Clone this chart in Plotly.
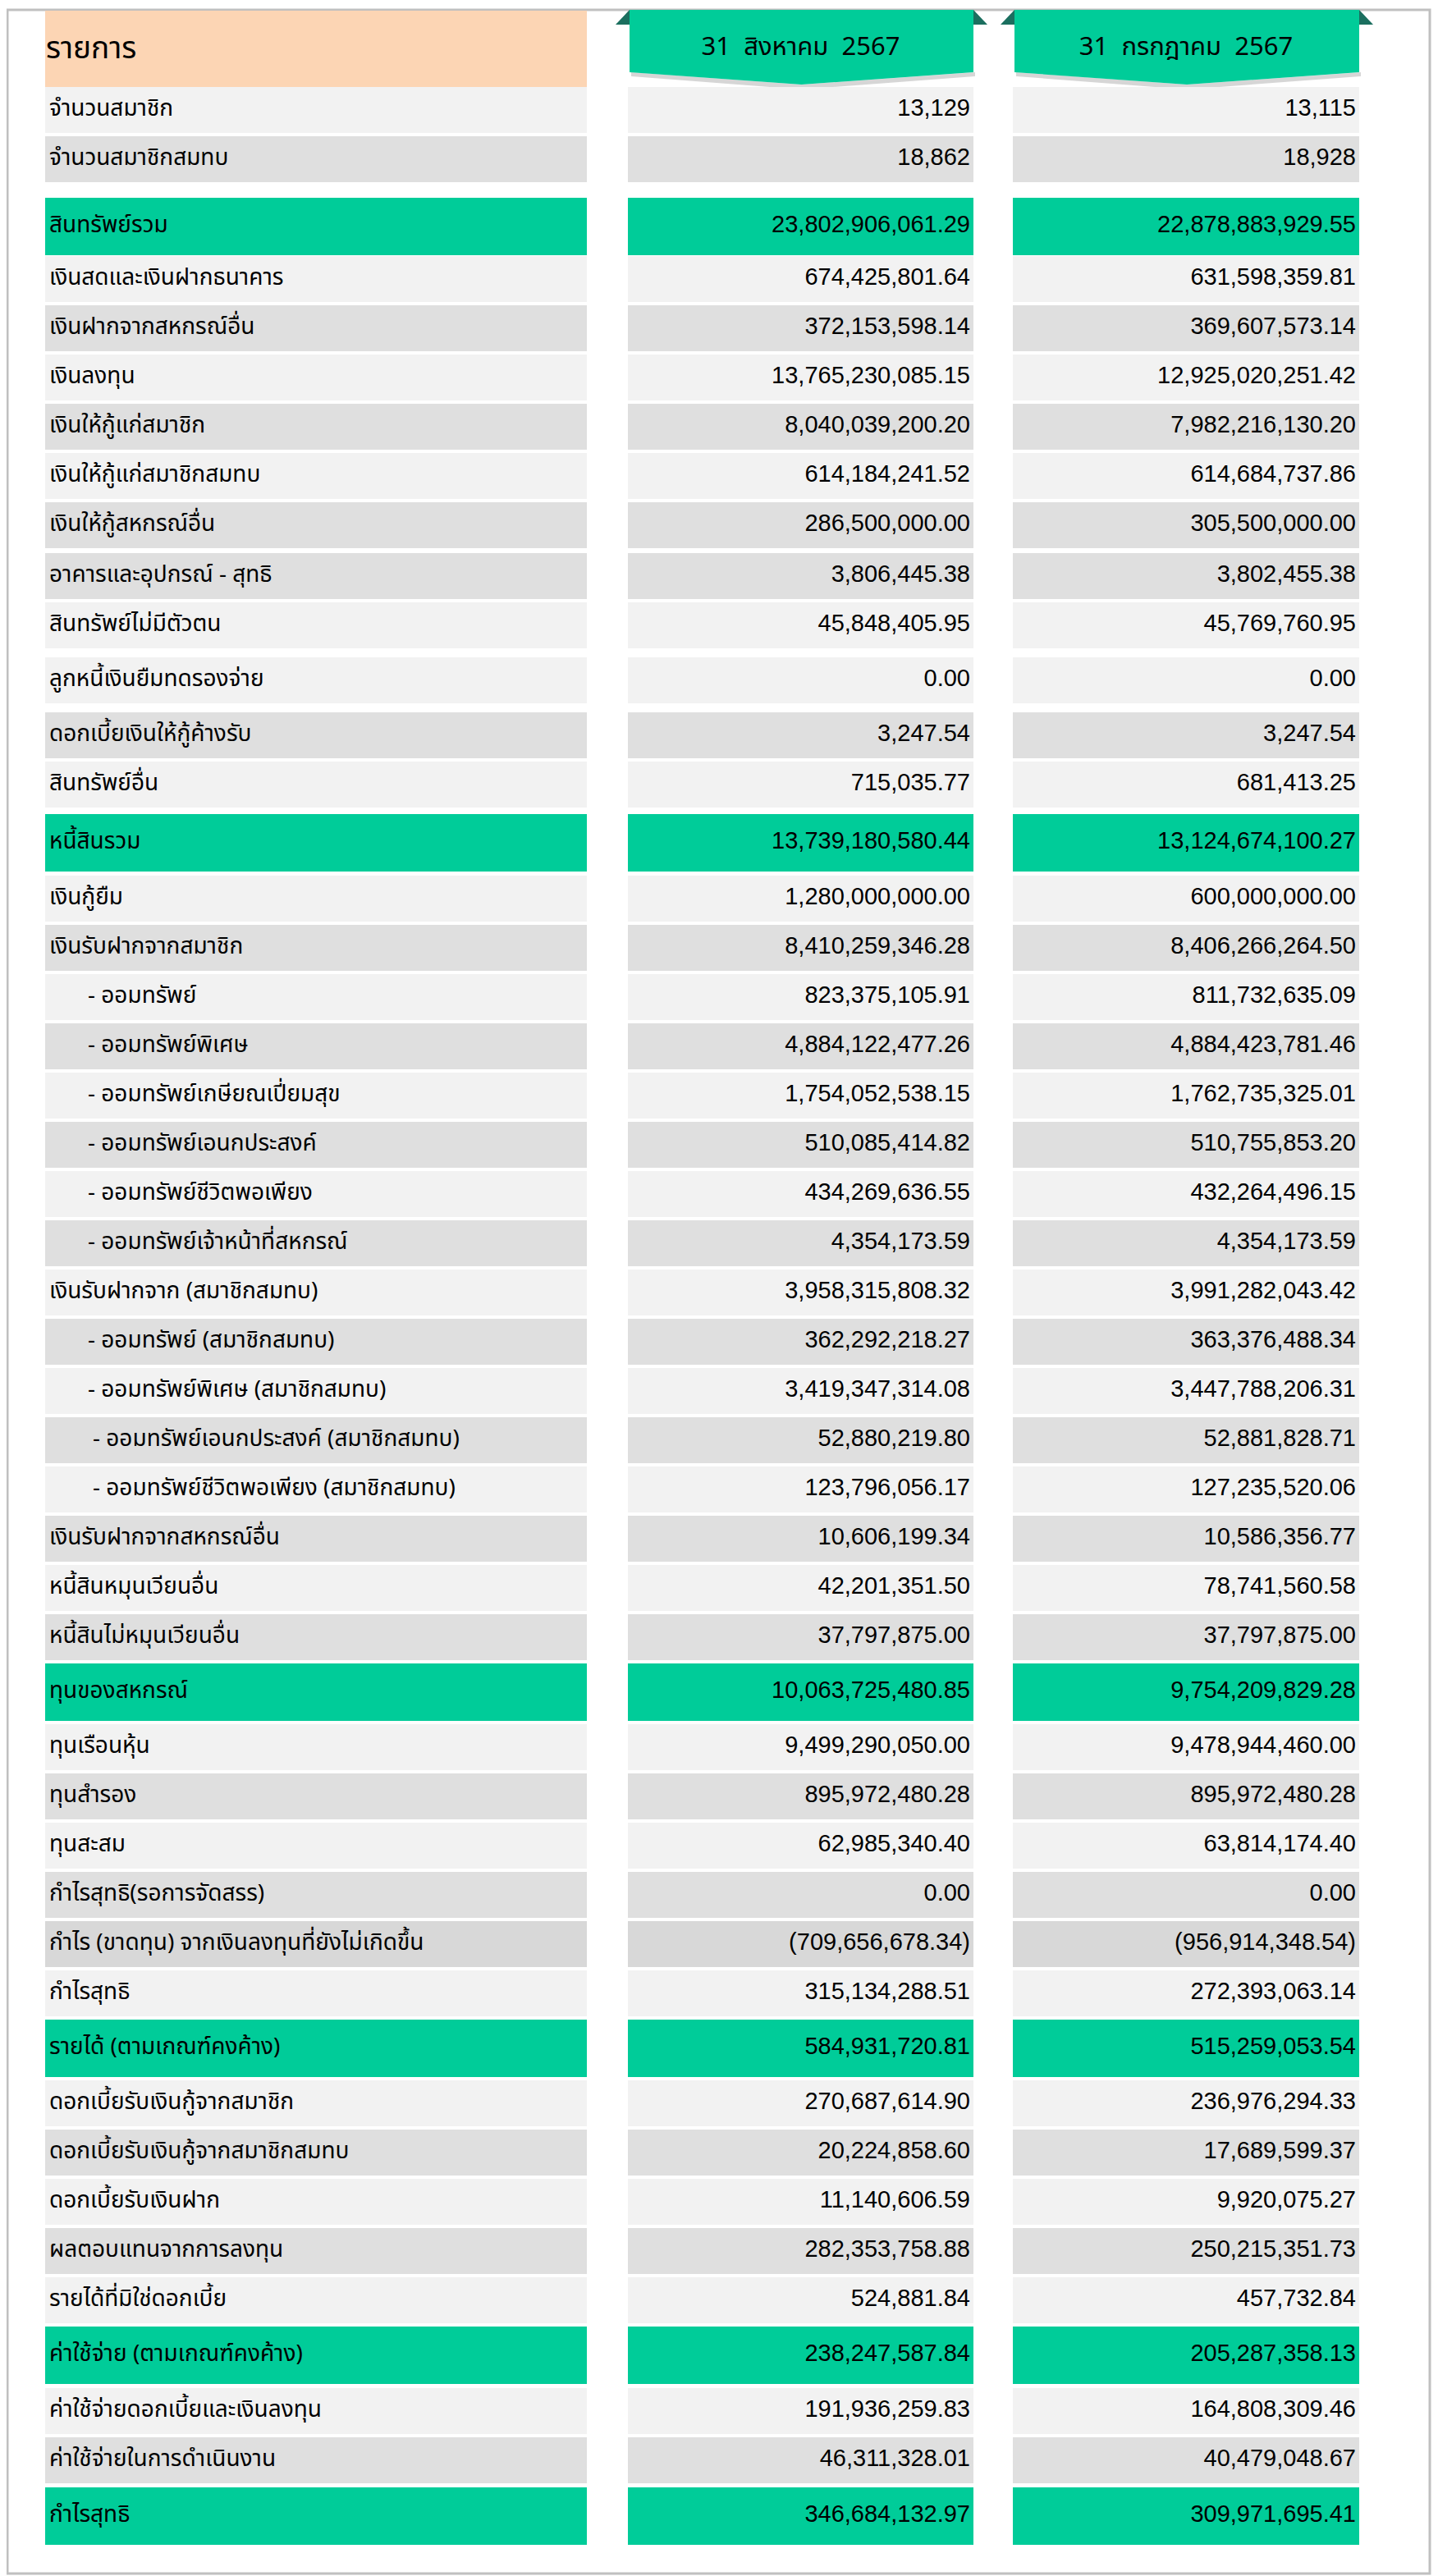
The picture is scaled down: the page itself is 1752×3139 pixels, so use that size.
import plotly.graph_objects as go

# ---- data ----
column_titles = ["รายการ", "31  สิงหาคม  2567", "31  กรกฎาคม  2567"]

labels = [
    "จำนวนสมาชิก", "จำนวนสมาชิกสมทบ",
    "สินทรัพย์รวม",
    "เงินสดและเงินฝากธนาคาร", "เงินฝากจากสหกรณ์อื่น", "เงินลงทุน",
    "เงินให้กู้แก่สมาชิก", "เงินให้กู้แก่สมาชิกสมทบ", "เงินให้กู้สหกรณ์อื่น",
    "อาคารและอุปกรณ์ - สุทธิ", "สินทรัพย์ไม่มีตัวตน", "ลูกหนี้เงินยืมทดรองจ่าย",
    "ดอกเบี้ยเงินให้กู้ค้างรับ", "สินทรัพย์อื่น",
    "หนี้สินรวม",
    "เงินกู้ยืม", "เงินรับฝากจากสมาชิก",
    "- ออมทรัพย์", "- ออมทรัพย์พิเศษ", "- ออมทรัพย์เกษียณเปี่ยมสุข",
    "- ออมทรัพย์เอนกประสงค์", "- ออมทรัพย์ชีวิตพอเพียง", "- ออมทรัพย์เจ้าหน้าที่สหกรณ์",
    "เงินรับฝากจาก (สมาชิกสมทบ)",
    "- ออมทรัพย์ (สมาชิกสมทบ)", "- ออมทรัพย์พิเศษ (สมาชิกสมทบ)",
    "- ออมทรัพย์เอนกประสงค์ (สมาชิกสมทบ)", "- ออมทรัพย์ชีวิตพอเพียง (สมาชิกสมทบ)",
    "เงินรับฝากจากสหกรณ์อื่น", "หนี้สินหมุนเวียนอื่น", "หนี้สินไม่หมุนเวียนอื่น",
    "ทุนของสหกรณ์",
    "ทุนเรือนหุ้น", "ทุนสำรอง", "ทุนสะสม", "กำไรสุทธิ(รอการจัดสรร)",
    "กำไร (ขาดทุน) จากเงินลงทุนที่ยังไม่เกิดขึ้น", "กำไรสุทธิ",
    "รายได้ (ตามเกณฑ์คงค้าง)",
    "ดอกเบี้ยรับเงินกู้จากสมาชิก", "ดอกเบี้ยรับเงินกู้จากสมาชิกสมทบ", "ดอกเบี้ยรับเงินฝาก",
    "ผลตอบแทนจากการลงทุน", "รายได้ที่มิใช่ดอกเบี้ย",
    "ค่าใช้จ่าย (ตามเกณฑ์คงค้าง)",
    "ค่าใช้จ่ายดอกเบี้ยและเงินลงทุน", "ค่าใช้จ่ายในการดำเนินงาน",
    "กำไรสุทธิ",
]

aug_2567 = [
    13129, 18862,
    23802906061.29,
    674425801.64, 372153598.14, 13765230085.15,
    8040039200.20, 614184241.52, 286500000.00,
    3806445.38, 45848405.95, 0.00,
    3247.54, 715035.77,
    13739180580.44,
    1280000000.00, 8410259346.28,
    823375105.91, 4884122477.26, 1754052538.15,
    510085414.82, 434269636.55, 4354173.59,
    3958315808.32,
    362292218.27, 3419347314.08,
    52880219.80, 123796056.17,
    10606199.34, 42201351.50, 37797875.00,
    10063725480.85,
    9499290050.00, 895972480.28, 62985340.40, 0.00,
    -709656678.34, 315134288.51,
    584931720.81,
    270687614.90, 20224858.60, 11140606.59,
    282353758.88, 524881.84,
    238247587.84,
    191936259.83, 46311328.01,
    346684132.97,
]

jul_2567 = [
    13115, 18928,
    22878883929.55,
    631598359.81, 369607573.14, 12925020251.42,
    7982216130.20, 614684737.86, 305500000.00,
    3802455.38, 45769760.95, 0.00,
    3247.54, 681413.25,
    13124674100.27,
    600000000.00, 8406266264.50,
    811732635.09, 4884423781.46, 1762735325.01,
    510755853.20, 432264496.15, 4354173.59,
    3991282043.42,
    363376488.34, 3447788206.31,
    52881828.71, 127235520.06,
    10586356.77, 78741560.58, 37797875.00,
    9754209829.28,
    9478944460.00, 895972480.28, 63814174.40, 0.00,
    -956914348.54, 272393063.14,
    515259053.54,
    236976294.33, 17689599.37, 9920075.27,
    250215351.73, 457732.84,
    205287358.13,
    164808309.46, 40479048.67,
    309971695.41,
]

# ---- styling per row: G = green total, L = light, D = grey, X = darker grey ----
shade = ("LD" "G" "LDLDLDDLLDL" "G" "LDLDLDLDLDLDLDLD" "G" "LDLDXL" "G" "LDLDL" "G" "LD" "G")
# how far each label is indented
indent = [0] * len(labels)
for i, lab in enumerate(labels):
    if lab.startswith("- "):
        indent[i] = 2 if ("เอนกประสงค์ (" in lab or "ชีวิตพอเพียง (" in lab) else 1
# gap above each row (px), default 4
gap_above = {0: 0, 2: 19, 3: 1, 9: 6, 11: 11, 12: 11, 14: 8, 15: 5, 45: 5, 47: 5}

COLORS = {"G": "#00cc99", "L": "#f2f2f2", "D": "#dfdfdf", "X": "#d8d8d8"}
PEACH = "#fcd5b4"
WING = "#1b6f5f"

W, H = 1752, 3139
PAD = 8  # default page margin around the plot div
col_left = [55, 765, 1234]
col_right = [715, 1186, 1656]
head_top, head_bot = 13, 105.6

# row layout
tops, heights = [], []
y = head_bot
for i, s in enumerate(shade):
    y += gap_above.get(i, 4)
    h = 70 if s == "G" else 56
    tops.append(y)
    heights.append(h)
    y += h
centers = [t + h / 2 for t, h in zip(tops, heights)]
cell_colors = [COLORS[s] for s in shade]


def fmt(v, i):
    if i < 2:
        return f"{v:,.0f}"
    if v < 0:
        return f"({-v:,.2f})"
    return f"{v:,.2f}"


THAI = "Noto Sans Thai, Noto Sans Thai UI, Tahoma, sans-serif"
NUM = "Liberation Sans, Arial, sans-serif"

fig = go.Figure()

# cell backgrounds as horizontal bars
for c in range(3):
    ys = centers[:]
    hs = heights[:]
    cols = cell_colors[:]
    if c == 0:
        ys = [(head_top + head_bot) / 2] + ys
        hs = [head_bot - head_top] + hs
        cols = [PEACH] + cols
    fig.add_trace(go.Bar(
        orientation="h", y=ys, width=hs,
        x=[col_right[c] - col_left[c]] * len(ys), base=col_left[c],
        marker=dict(color=cols, line=dict(width=0)),
        hoverinfo="skip", showlegend=False,
    ))

# labels
label_x = [60 + (0 if k == 0 else (47 if k == 1 else 53)) for k in indent]
fig.add_trace(go.Scatter(
    x=label_x, y=centers, mode="text", text=labels,
    textposition="middle right",
    textfont=dict(family=THAI, size=28, color="#000000"),
    hoverinfo="skip", showlegend=False,
))
fig.add_trace(go.Scatter(
    x=[56], y=[(head_top + head_bot) / 2 + 2], mode="text", text=[column_titles[0]],
    textposition="middle right",
    textfont=dict(family=THAI, size=37, color="#000000"),
    hoverinfo="skip", showlegend=False,
))

# values
for c, series in ((1, aug_2567), (2, jul_2567)):
    fig.add_trace(go.Scatter(
        x=[col_right[c] - 4] * len(series), y=centers, mode="text",
        text=[fmt(v, i) for i, v in enumerate(series)],
        textposition="middle left",
        textfont=dict(family=NUM, size=29, color="#000000"),
        hoverinfo="skip", showlegend=False,
    ))

shapes = [dict(type="rect", x0=9, x1=1742, y0=12, y1=3136, xref="x", yref="y",
               line=dict(color="#c0c0c0", width=3), fillcolor="rgba(0,0,0,0)", layer="below")]

# ribbon headers
rib_top, rib_side, rib_tip = 12, 88, 103
for c in (1, 2):
    x0, x1 = col_left[c] + 2, col_right[c]
    xc = (x0 + x1) / 2
    shapes.append(dict(type="path", layer="below", line=dict(width=0),
                       fillcolor="rgba(0,0,0,0.16)",
                       path=f"M{x0+2},{rib_side} L{xc},{rib_tip} L{x1+2},{rib_side} "
                            f"L{x1+2},{rib_side+5} L{xc},{rib_tip+6} L{x0+2},{rib_side+5} Z"))
    shapes.append(dict(type="path", layer="below", line=dict(width=0), fillcolor=WING,
                       path=f"M{x0-17},{rib_top+18} L{x0},{rib_top} L{x0},{rib_top+18} Z"))
    shapes.append(dict(type="path", layer="below", line=dict(width=0), fillcolor=WING,
                       path=f"M{x1+17},{rib_top+18} L{x1},{rib_top} L{x1},{rib_top+18} Z"))
    shapes.append(dict(type="path", layer="below", line=dict(width=0), fillcolor=COLORS["G"],
                       path=f"M{x0},{rib_top} L{x1},{rib_top} L{x1},{rib_side} "
                            f"L{xc},{rib_tip} L{x0},{rib_side} Z"))

fig.add_trace(go.Scatter(
    x=[(col_left[1] + col_right[1]) / 2, (col_left[2] + col_right[2]) / 2],
    y=[59, 59], mode="text", text=column_titles[1:],
    textposition="middle center",
    textfont=dict(family=THAI, size=31, color="#000000"),
    hoverinfo="skip", showlegend=False,
))

fig.update_layout(
    width=W, height=H,
    margin=dict(l=0, r=0, t=0, b=0),
    paper_bgcolor="white", plot_bgcolor="white",
    barmode="overlay", bargap=0,
    shapes=shapes,
    xaxis=dict(range=[PAD, W + PAD], visible=False, fixedrange=True),
    yaxis=dict(range=[H + PAD, PAD], visible=False, fixedrange=True),
)

fig.write_html("out.html")
